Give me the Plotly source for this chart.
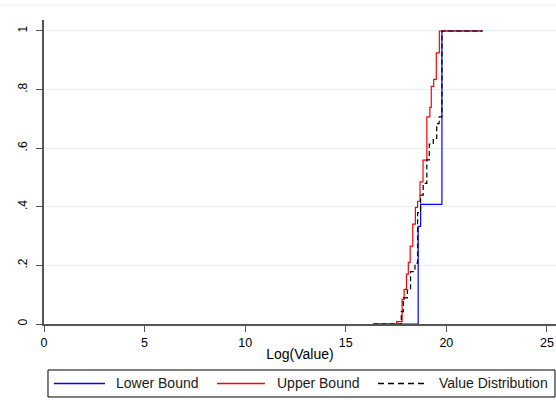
import plotly.graph_objects as go

# Step-function CDFs (x = Log(Value), y = cumulative share)
lower_x = [16.37, 18.60, 18.72, 19.78, 21.80]
lower_y = [0.0, 0.333, 0.408, 1.0, 1.0]

upper_x = [16.37, 17.53, 17.80, 17.90, 18.02, 18.11, 18.20, 18.33, 18.46, 18.57,
           18.69, 18.84, 19.03, 19.18, 19.25, 19.37, 19.50, 19.65, 21.80]
upper_y = [0.0, 0.008, 0.084, 0.118, 0.170, 0.210, 0.266, 0.341, 0.398, 0.419,
           0.485, 0.559, 0.707, 0.739, 0.811, 0.835, 0.925, 1.0, 1.0]

dist_x = [16.37, 17.76, 17.86, 18.06, 18.22, 18.44, 18.57, 18.72, 18.85, 19.03,
          19.15, 19.35, 19.52, 19.64, 19.78, 21.80]
dist_y = [0.0, 0.042, 0.089, 0.116, 0.179, 0.208, 0.380, 0.440, 0.480, 0.560,
          0.614, 0.633, 0.684, 0.707, 1.0, 1.0]

series_names = ["Lower Bound", "Upper Bound", "Value Distribution"]
series_colors = ["rgb(0,0,255)", "rgb(255,0,0)", "rgb(0,0,0)"]
series_dash = ["solid", "solid", "5px,3px"]

x_ticks = [0, 5, 10, 15, 20, 25]
y_ticks = [0, 0.2, 0.4, 0.6, 0.8, 1.0]
y_tick_text = ["0", ".2", ".4", ".6", ".8", "1"]

fig = go.Figure()
for xs, ys, nm, col, dsh in zip([lower_x, upper_x, dist_x], [lower_y, upper_y, dist_y],
                                series_names, series_colors, series_dash):
    fig.add_trace(go.Scatter(x=xs, y=ys, mode="lines", line_shape="hv", name=nm,
                             showlegend=False,
                             line=dict(color=col, width=1.2, dash=dsh)))

# Legend drawn as a boxed row below the plot (paper coordinates)
leg_y0, leg_y1, leg_mid = -0.2401, -0.1513, -0.1957
leg_lines = [(0.0195, 0.119), (0.3379, 0.4316), (0.6523, 0.7441)]
leg_text_x = [0.1367, 0.4512, 0.7676]
shapes = [
    dict(type="line", xref="paper", yref="paper", x0=-0.09, x1=1,
         y0=1.049, y1=1.049, line=dict(color="#eaf0f2", width=1)),
    dict(type="rect", xref="paper", yref="paper", x0=0.0078, x1=0.998,
         y0=leg_y0, y1=leg_y1, line=dict(color="#000", width=1)),
]
annotations = []
for (lx0, lx1), tx, nm, col, dsh in zip(leg_lines, leg_text_x, series_names,
                                        series_colors, series_dash):
    line_style = dict(color=col, width=1.5)
    if dsh != "solid":
        line_style["dash"] = "6px,4px"
    shapes.append(dict(type="line", xref="paper", yref="paper", x0=lx0, x1=lx1,
                       y0=leg_mid, y1=leg_mid, line=line_style))
    annotations.append(dict(xref="paper", yref="paper", x=tx, y=leg_mid, text=nm,
                            showarrow=False, xanchor="left", yanchor="middle",
                            font=dict(size=14, color="#1a1a1a")))

fig.update_layout(
    width=556, height=413,
    margin=dict(l=44, r=0, t=20, b=89, autoexpand=False),
    paper_bgcolor="white", plot_bgcolor="white",
    font=dict(family="Liberation Sans, Arial, sans-serif", size=12, color="#000"),
    showlegend=False,
    shapes=shapes, annotations=annotations,
)
fig.update_xaxes(range=[0, 25.45], tickvals=x_ticks, ticks="outside", ticklen=6,
                 tickcolor="#555", showline=True, linecolor="#555", linewidth=1.5,
                 showgrid=False, zeroline=False, automargin=False,
                 ticklabeloverflow="allow",
                 title=dict(text="Log(Value)", standoff=0, font=dict(size=14)),
                 tickfont=dict(size=12.5))
fig.update_yaxes(range=[0, 1.0375], tickvals=y_ticks, ticktext=y_tick_text,
                 tickangle=-90, ticks="outside", ticklen=6, tickcolor="#555",
                 showline=True, linecolor="#555", linewidth=1.5, automargin=False,
                 showgrid=True, gridcolor="#e6eff1", gridwidth=1, zeroline=False,
                 ticklabelstandoff=4, tickfont=dict(size=12))

fig.write_html("out.html", config={"displayModeBar": False},
               post_script="document.body.style.margin='0px';document.body.style.overflow='hidden';")
